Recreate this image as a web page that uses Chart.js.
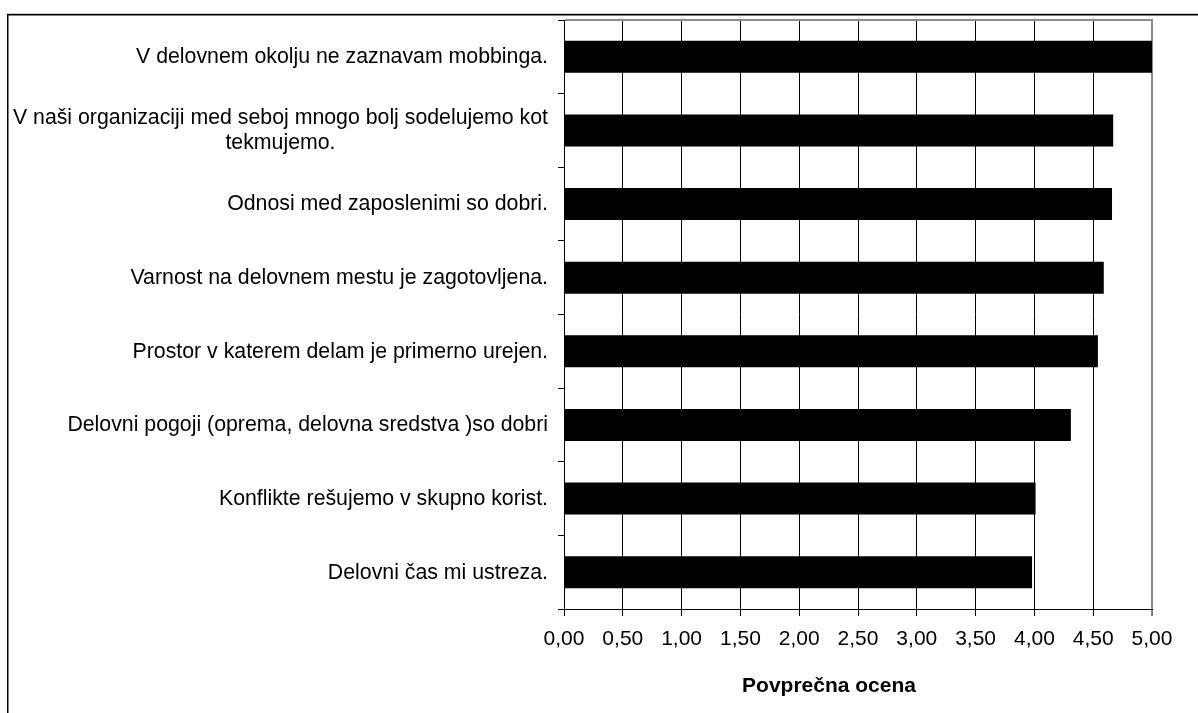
<!DOCTYPE html>
<html>
<head>
<meta charset="utf-8">
<script src="https://cdn.jsdelivr.net/npm/chart.js@4.4.1/dist/chart.umd.min.js"></script>
<style>
  html, body { margin: 0; padding: 0; background: #fff; }
  canvas { display: block; }
</style>
</head>
<body>
<canvas id="chart" width="1198" height="713"></canvas>
<script>
// Statements (each entry is a list of text lines) and their average scores
const statements = [
  ['V delovnem okolju ne zaznavam mobbinga.'],
  ['V naši organizaciji med seboj mnogo bolj sodelujemo kot', 'tekmujemo.'],
  ['Odnosi med zaposlenimi so dobri.'],
  ['Varnost na delovnem mestu je zagotovljena.'],
  ['Prostor v katerem delam je primerno urejen.'],
  ['Delovni pogoji (oprema, delovna sredstva )so dobri'],
  ['Konflikte rešujemo v skupno korist.'],
  ['Delovni čas mi ustreza.']
];
const averages = [5.00, 4.67, 4.66, 4.59, 4.54, 4.31, 4.01, 3.98];
const axisTitle = 'Povprečna ocena';
const scoreMin = 0;
const scoreMax = 5;
const scoreStep = 0.5;

const FONT = '"Liberation Sans", Arial, sans-serif';

// White page with a dark frame on the top and left edges
const frame = {
  id: 'frame',
  beforeDraw(chart) {
    const ctx = chart.ctx;
    ctx.save();
    ctx.fillStyle = '#fff';
    ctx.fillRect(0, 0, chart.width, chart.height);
    ctx.fillStyle = '#c8c8c8';
    ctx.fillRect(7, 13, chart.width - 7, 1);
    ctx.fillStyle = '#000';
    ctx.fillRect(7, 14, chart.width - 7, 1.5);
    ctx.fillRect(7, 14, 1.5, chart.height - 14);
    ctx.restore();
  }
};

// Grey outline on the top edge of the plot
const plotOutline = {
  id: 'plotOutline',
  beforeDatasetsDraw(chart) {
    const { ctx, chartArea: a } = chart;
    ctx.save();
    ctx.strokeStyle = '#8c8c8c';
    ctx.lineWidth = 2;
    ctx.beginPath();
    ctx.moveTo(a.left + 1, a.top);
    ctx.lineTo(a.right + 1, a.top);
    ctx.stroke();
    ctx.restore();
  }
};

// Category texts: each block right-aligned beside the axis, its lines centred on each other
const statementLabels = {
  id: 'statementLabels',
  afterDraw(chart) {
    const { ctx, chartArea: a } = chart;
    const y = chart.scales.y;
    ctx.save();
    ctx.fillStyle = '#000';
    ctx.textBaseline = 'middle';
    ctx.textAlign = 'center';
    ctx.font = '21.3px ' + FONT;
    const rightEdge = y.right - 16;
    const lineGap = 25;
    chart.data.labels.forEach((lines, i) => {
      const cy = y.getPixelForValue(i);
      const widest = Math.max(...lines.map(l => ctx.measureText(l).width));
      const cx = rightEdge - widest / 2;
      lines.forEach((line, j) => {
        ctx.fillText(line, cx, cy + (j - (lines.length - 1) / 2) * lineGap + 0.5);
      });
    });
    ctx.font = 'bold 21px ' + FONT;
    ctx.fillText(axisTitle, (a.left + a.right) / 2 - 29, 686);
    ctx.restore();
  }
};

const isLast = c => c.tick && c.tick.value === scoreMax;

new Chart(document.getElementById('chart'), {
  type: 'bar',
  data: {
    labels: statements,
    datasets: [{
      data: averages,
      backgroundColor: '#000',
      borderWidth: 0,
      barPercentage: 0.435,
      categoryPercentage: 1
    }]
  },
  options: {
    indexAxis: 'y',
    responsive: false,
    animation: false,
    devicePixelRatio: 1,
    layout: { padding: { left: 0, top: 20, right: 46, bottom: 0 } },
    plugins: {
      legend: { display: false },
      tooltip: { enabled: false }
    },
    scales: {
      x: {
        type: 'linear',
        position: 'bottom',
        min: scoreMin,
        max: scoreMax,
        afterFit(scale) { scale.height = 104; },
        grid: {
          color: c => isLast(c) ? '#8c8c8c' : '#000',
          lineWidth: c => isLast(c) ? 2 : 1,
          tickColor: '#000',
          tickWidth: 1,
          tickLength: 7,
          drawOnChartArea: true,
          drawTicks: true
        },
        border: { display: true, color: '#000', width: 1 },
        ticks: {
          stepSize: scoreStep,
          autoSkip: false,
          maxRotation: 0,
          padding: 11,
          color: '#000',
          font: { family: FONT, size: 21 },
          callback: v => Number(v).toFixed(2).replace('.', ',')
        },
        title: { display: false }
      },
      y: {
        type: 'category',
        position: 'left',
        offset: true,
        afterFit(scale) { scale.width = 564; },
        grid: {
          offset: true,
          drawOnChartArea: false,
          drawTicks: true,
          tickLength: 6,
          color: '#000',
          tickColor: '#000',
          lineWidth: 1
        },
        border: { display: true, color: '#000', width: 1 },
        ticks: { display: false }
      }
    }
  },
  plugins: [frame, plotOutline, statementLabels]
});
</script>
</body>
</html>
